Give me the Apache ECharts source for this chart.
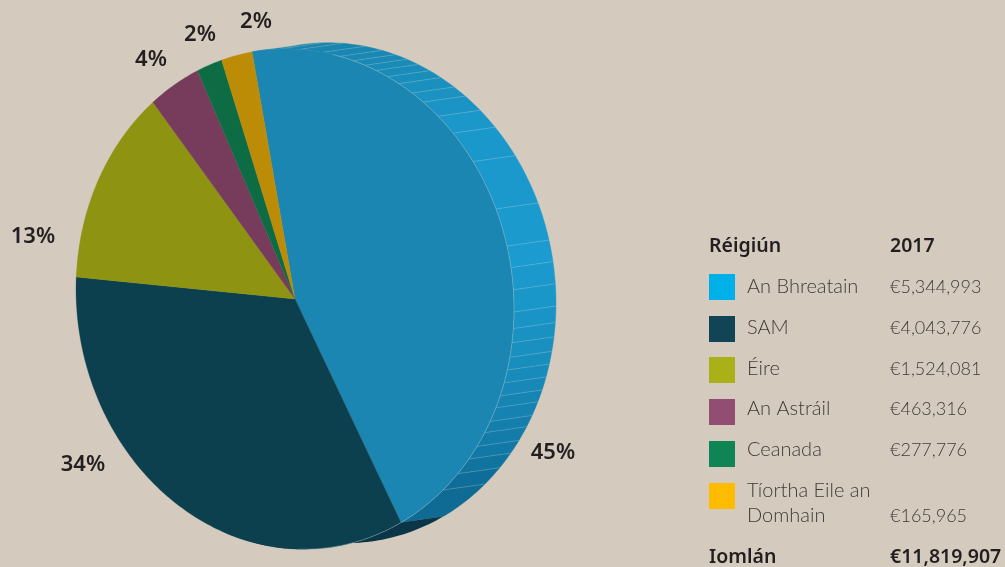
<!DOCTYPE html>
<html><head><meta charset="utf-8">
<style>html,body{margin:0;padding:0;background:#D4CBBE}#c{width:1005px;height:567px}</style>
<script src="https://cdn.jsdelivr.net/npm/echarts@6/dist/echarts.min.js"></script>
</head><body><div id="c"></div>
<script>
// Data
const regions = ['An Bhreatain','SAM','Éire','An Astráil','Ceanada','Tíortha Eile an\nDomhain'];
const amounts = ['€5,344,993','€4,043,776','€1,524,081','€463,316','€277,776','€165,965'];
const shares = [45.1,33.8,13,3.9,1.9,2.3];   // slice share as drawn, percent
const percentLabels = ['45%','34%','13%','4%','2%','2%'];
const tableHeader = ['Réigiún','2017'];
const tableTotal = ['Iomlán','€11,819,907'];

// Style
const FONT = '"Noto Sans",sans-serif';
const LIGHT = 'Lato,"Noto Sans",sans-serif';
const INK = '#231F20';
const faceColors = ['#1A86B1','#0C404E','#8E9311','#773C5C','#0D6C43','#BC8C07'];
const swatchColors = ['#00B0E8','#114455','#AAB018','#924E72','#0F8454','#FFBB00'];
const labelAnchors = [[553,453],[83,465],[33,237],[151,60],[200,35],[256,22]];
const rowY = [287,328,369,409,450,491];
const swatchTop = [274,316,357,399,441,483];
const geo = {cx:295, cy:299, rx:219, ry:250, skew:10, start:-11.3, dx:42, dy:-6};
const rimStops = [[-12,'#1A7FA6'],[20,'#1A8AB6'],[45,'#1B98CA'],[80,'#1B9BCF'],[100,'#1990C0'],[118,'#1480AE'],[135,'#0F6E99'],[152,'#0F6890']];
const rimTicks = [-4,1.3,7.3,11.8,15.4,18.6,21.7,25,28.3,32.3,35.8,40.8,46.2,54.4,66.6,75.5,80.5,85.6,90.7,94.5,97.8,101.2,104.2,107.3,110.5,113.5,117,120,123.8,127.5,132,137.5];

const rad = d => d*Math.PI/180;
const pt = (t,s) => {const sn=Math.sin(rad(t)),cs=Math.cos(rad(t));return [geo.cx + geo.rx*sn + (s?geo.dx:0), geo.cy - geo.ry*cs + geo.skew*sn + (s?geo.dy:0)];};
function arc(a,b,s){const n=Math.max(2,Math.ceil(Math.abs(b-a))),o=[];for(let i=0;i<=n;i++)o.push(pt(a+(b-a)*i/n,s));return o;}
function sliceStart(i){let a=geo.start;for(let k=0;k<i;k++)a+=shares[k]*3.6;return a;}
function hex(c){return [1,3,5].map(i=>parseInt(c.substr(i,2),16));}
function rimColor(t){
  for(let i=0;i<rimStops.length-1;i++){
    const [a,ca]=rimStops[i],[b,cb]=rimStops[i+1];
    if(t<=b){const f=Math.max(0,(t-a)/(b-a)),x=hex(ca),y=hex(cb);
      return 'rgb('+x.map((v,j)=>Math.round(v+(y[j]-v)*f)).join(',')+')';}
  }
  return rimStops[rimStops.length-1][1];
}
function renderRim(params,api){
  const i=params.dataIndex, a=sliceStart(i), b=a+api.value(0)*3.6, kids=[];
  if(i===0){
    const edges=[a].concat(rimTicks.filter(t=>t>a&&t<b),[b]);
    for(let k=0;k<edges.length-1;k++){
      const p=arc(edges[k],edges[k+1],false).concat(arc(edges[k+1],edges[k],true));
      const col=rimColor((edges[k]+edges[k+1])/2);
      kids.push({type:'polygon',shape:{points:p},style:{fill:col,stroke:col,lineWidth:.4}});
    }
    rimTicks.filter(t=>t>a&&t<b).forEach(t=>{
      const p=pt(t,false),q=pt(t,true);
      kids.push({type:'line',shape:{x1:p[0],y1:p[1],x2:q[0],y2:q[1]},style:{stroke:'rgba(225,235,240,.26)',lineWidth:.8}});
    });
  } else if(i===1){
    const e=Math.min(b,200);
    kids.push({type:'polygon',shape:{points:arc(a,e,false).concat(arc(e,a,true))},style:{fill:'#0A3648'}});
  }
  return {type:'group',children:kids};
}
function renderFace(params,api){
  const i=params.dataIndex, a=sliceStart(i), b=a+api.value(0)*3.6;
  const kids=[{type:'polygon',shape:{points:[[geo.cx,geo.cy]].concat(arc(a,b,false))},style:{fill:faceColors[i],stroke:faceColors[i],lineWidth:.3}}];
  if(i===0){kids.push({type:'polyline',shape:{points:arc(10,b,false)},style:{fill:null,stroke:'rgba(210,225,230,.4)',lineWidth:.8}});}
  if(i===1){kids.push({type:'polyline',shape:{points:arc(a,a+28,false)},style:{fill:null,stroke:'rgba(210,225,230,.4)',lineWidth:.8}});}
  kids.push({type:'text',style:{text:percentLabels[i],x:labelAnchors[i][0],y:labelAnchors[i][1],align:'center',verticalAlign:'middle',fill:INK,font:'600 22px '+FONT}});
  return {type:'group',children:kids};
}

// Table drawn as graphic text and swatches
const els=[];
const txt=(s,x,y,kind)=>els.push({type:'text',silent:true,style:{text:s,x:x,y:y,verticalAlign:'middle',fill:kind==='b'?INK:'#3F3A38',font:kind==='b'?'600 19.5px '+FONT:(kind==='n'?'300 18px ':'300 20px ')+LIGHT}});
txt(tableHeader[0],709,246,'b'); txt(tableHeader[1],890,246,'b');
regions.forEach((r,i)=>{
  els.push({type:'rect',silent:true,shape:{x:709,y:swatchTop[i],width:26,height:26},style:{fill:swatchColors[i]}});
  if(r.indexOf('\n')>=0){const p=r.split('\n');txt(p[0],747,rowY[i],'t');txt(p[1],747,rowY[i]+25,'t');txt(amounts[i],890,rowY[i]+25,'n');}
  else{txt(r,747,rowY[i],'t');txt(amounts[i],890,rowY[i],'n');}
});
txt(tableTotal[0],709,557,'b'); txt(tableTotal[1],890,557,'b');

const chart=echarts.init(document.getElementById('c'),null,{renderer:'canvas'});
const rows=shares.map((v,i)=>({name:regions[i],value:[v]}));
chart.setOption({
  animation:false,
  backgroundColor:'#D4CBBE',
  tooltip:{show:false},
  graphic:els,
  series:[
    {type:'custom',name:'rim',coordinateSystem:'none',z:1,silent:true,renderItem:renderRim,data:rows,encode:{value:0}},
    {type:'custom',name:'face',coordinateSystem:'none',z:2,silent:true,renderItem:renderFace,data:rows,encode:{value:0}}
  ]
});
</script></body></html>
